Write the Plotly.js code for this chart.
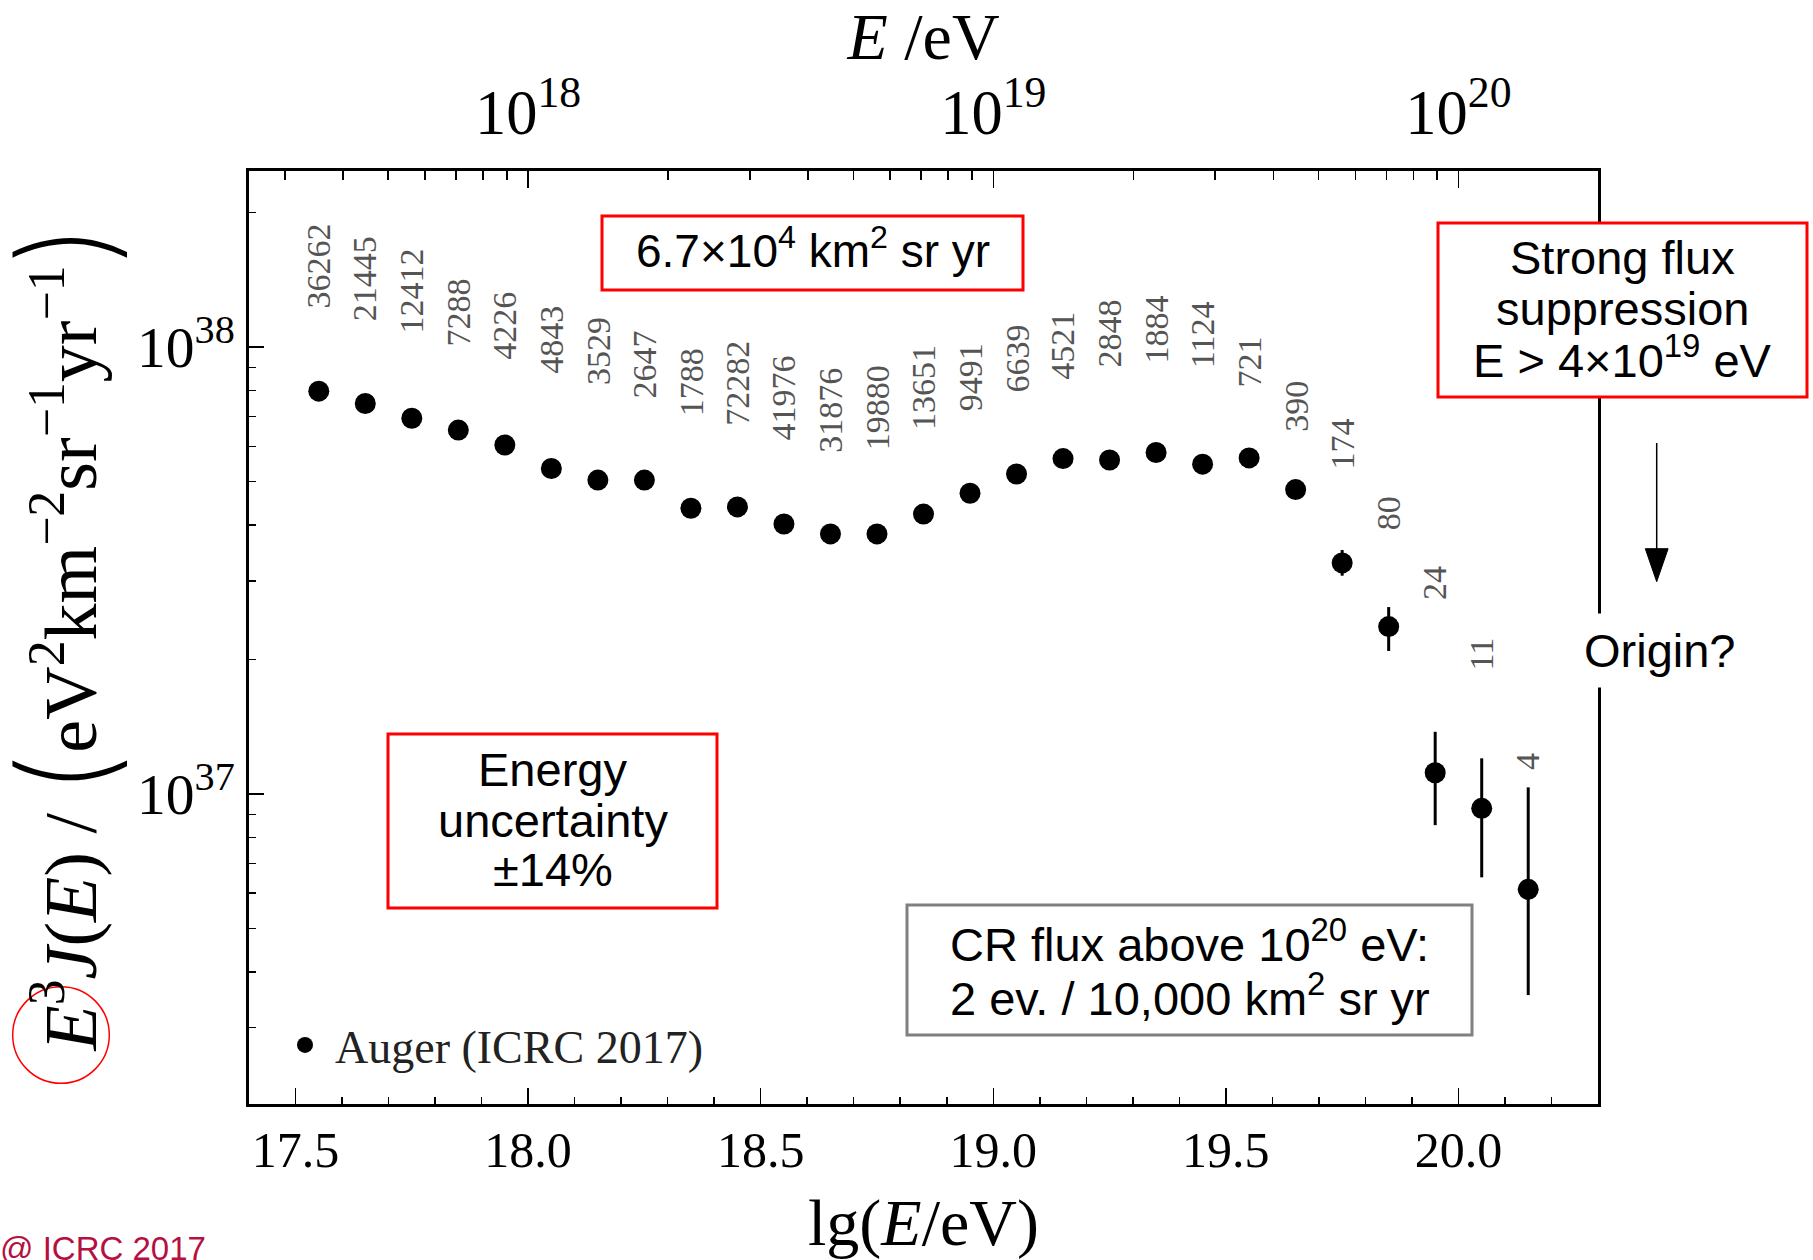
<!DOCTYPE html>
<html>
<head>
<meta charset="utf-8">
<script src="https://cdn.plot.ly/plotly-3.0.1.min.js"></script>
<style>html,body{margin:0;padding:0;background:#fff;}</style>
</head>
<body>
<div id="chart" style="width:1813px;height:1260px;"></div>
<script>
// ---- data ----
const lgE = [17.55, 17.65, 17.75, 17.85, 17.95, 18.05, 18.15, 18.25, 18.35, 18.45,
             18.55, 18.65, 18.75, 18.85, 18.95, 19.05, 19.15, 19.25, 19.35, 19.45,
             19.55, 19.65, 19.75, 19.85, 19.95, 20.05, 20.15];
const fluxE3J = [7.97e37, 7.48e37, 6.93e37, 6.52e37, 6.04e37, 5.35e37, 5.04e37, 5.04e37, 4.36e37, 4.39e37,
                 4.02e37, 3.82e37, 3.82e37, 4.23e37, 4.71e37, 5.20e37, 5.63e37, 5.59e37, 5.81e37, 5.47e37,
                 5.65e37, 4.80e37, 3.29e37, 2.37e37, 1.116e37, 9.29e36, 6.12e36];
const errUp = [0, 0, 0, 0, 0, 0, 0, 0, 0, 0,
               0, 0, 0, 0, 0, 0, 0, 0, 0, 0,
               0.05e37, 0.08e37, 0.225e37, 0.25e37, 0.262e37, 0.273e37, 0.423e37];
const errDown = [0, 0, 0, 0, 0, 0, 0, 0, 0, 0,
                 0, 0, 0, 0, 0, 0, 0, 0, 0, 0,
                 0.05e37, 0.08e37, 0.21e37, 0.28e37, 0.264e37, 0.278e37, 0.257e37];
const eventCounts = ["36262", "21445", "12412", "7288", "4226", "4843", "3529", "2647", "1788", "72282",
                     "41976", "31876", "19880", "13651", "9491", "6639", "4521", "2848", "1884", "1124",
                     "721", "390", "174", "80", "24", "11", "4"];
const seriesName = "Auger (ICRC 2017)";
const yTitle = "<i>E</i><sup>3</sup><i>J</i>(<i>E</i>) / " +
  "<span style=\"font-family:Inter;font-weight:200;font-size:126px;baseline-shift:-14px\">(</span>" +
  "eV<sup>2</sup>km<sup>−2</sup>sr<sup>−1</sup>yr<sup>−1</sup>" +
  "<span style=\"font-family:Inter;font-weight:200;font-size:126px;baseline-shift:-14px\">)</span>";

// ---- styling / placement (not data) ----
const labelGap = [81, 80, 83, 82, 83, 93, 93, 80, 90, 79, 82, 79, 82, 82, 80, 79, 77, 90, 87, 94,
                  68, 56, 91, 94, 171, 136, 117];

const L = 249, W = 1349, T = 171, H = 933;
const px = v => (v - L) / W;
const py = v => (T + H - v) / H;

const SANS = "Liberation Sans, Arial, sans-serif";
const SERIF = "Liberation Serif, Times New Roman, serif";

const trace = {
  type: "scatter",
  mode: "markers",
  name: seriesName,
  x: lgE,
  y: fluxE3J,
  xaxis: "x",
  yaxis: "y",
  marker: {size: 21, color: "#000"},
  error_y: {type: "data", symmetric: false, array: errUp, arrayminus: errDown,
            thickness: 3, width: 0, color: "#000"},
  hoverinfo: "x+y"
};

// same points expressed in E (eV) on the top log axis; invisible, only anchors that axis
const traceTop = {
  type: "scatter",
  mode: "markers",
  x: lgE.map(v => Math.pow(10, v)),
  y: fluxE3J,
  xaxis: "x2",
  yaxis: "y",
  marker: {size: 1, color: "rgba(0,0,0,0)"},
  showlegend: false,
  hoverinfo: "skip"
};

const annotations = [];
eventCounts.forEach((t, i) => {
  annotations.push({
    x: lgE[i], y: Math.log10(fluxE3J[i]), xref: "x", yref: "y",
    text: t, textangle: -90, showarrow: false,
    xanchor: "center", yanchor: "bottom", yshift: labelGap[i],
    font: {family: SERIF, size: 34, color: "#555"}
  });
});

function textLine(text, cx, cy, size, color, extra) {
  return Object.assign({
    x: px(cx), y: py(cy), xref: "paper", yref: "paper", text: text,
    showarrow: false, xanchor: "center", yanchor: "middle",
    font: {family: SANS, size: size, color: color || "#000"}
  }, extra || {});
}

// y-axis title (drawn as rotated text so it can sit at the far left edge)
annotations.push({
  x: px(63), y: 0.5, xref: "paper", yref: "paper", text: yTitle,
  textangle: -90, showarrow: false, xanchor: "center", yanchor: "middle",
  font: {family: SERIF, size: 74, color: "#000"}
});

annotations.push(textLine("6.7×10<sup>4</sup> km<sup>2</sup> sr yr", 812.5, 248, 46));
annotations.push(textLine("Strong flux", 1622, 258, 47));
annotations.push(textLine("suppression", 1622, 308, 47));
annotations.push(textLine("E &gt; 4×10<sup>19</sup> eV", 1622, 357, 47));
annotations.push(textLine("Energy", 552.5, 769, 47));
annotations.push(textLine("uncertainty", 552.5, 820, 47));
annotations.push(textLine("±14%", 552.5, 869, 47));
annotations.push(textLine("CR flux above 10<sup>20</sup> eV:", 1189.6, 941, 47));
annotations.push(textLine("2 ev. / 10,000 km<sup>2</sup> sr yr", 1189.6, 995, 47));
annotations.push(textLine("Origin?", 1660, 650, 47, "#000", {bgcolor: "#fff", borderpad: 10}));
annotations.push({
  x: px(-2), y: py(1228), xref: "paper", yref: "paper", text: "@ ICRC 2017",
  showarrow: false, xanchor: "left", yanchor: "top",
  font: {family: SANS, size: 33, color: "#b5103f"}
});

function rect(x0, x1, y0, y1, color) {
  return {type: "rect", xref: "paper", yref: "paper", layer: "above",
          x0: px(x0), x1: px(x1), y0: py(y0), y1: py(y1),
          fillcolor: "#fff", line: {color: color, width: 3}};
}

const shapes = [
  rect(602, 1023, 216, 290, "#ff0000"),
  rect(1438, 1807, 223, 397, "#ff0000"),
  rect(388, 717, 734, 908, "#ff0000"),
  rect(907, 1472, 905, 1035, "#808080"),
  {type: "circle", xref: "paper", yref: "paper", layer: "above",
   x0: px(12.7), x1: px(109.3), y0: py(1083.3), y1: py(986.7),
   line: {color: "#ff0000", width: 1.5}},
  {type: "line", xref: "paper", yref: "paper", layer: "above",
   x0: px(1656.7), x1: px(1656.7), y0: py(443), y1: py(560),
   line: {color: "#000", width: 1.5}},
  {type: "path", xref: "paper", yref: "paper", layer: "above",
   path: "M " + px(1656.7) + " " + py(581.7) + " L " + px(1645.3) + " " + py(548.7) +
         " L " + px(1668.1) + " " + py(548.7) + " Z",
   fillcolor: "#000", line: {color: "#000", width: 1}}
];

const layout = {
  width: 1813, height: 1260,
  margin: {l: L, r: 1813 - L - W, t: T, b: 1260 - T - H, pad: 0},
  paper_bgcolor: "#fff", plot_bgcolor: "#fff",
  showlegend: true,
  legend: {x: px(275), y: py(1045), xanchor: "left", yanchor: "middle",
           bgcolor: "rgba(0,0,0,0)", itemwidth: 50,
           font: {family: SERIF, size: 46, color: "#222"}},
  xaxis: {
    range: [17.4, 20.3], tick0: 17.5, dtick: 0.5, tickformat: ".1f",
    ticks: "inside", ticklen: 16, tickwidth: 1.5, tickcolor: "#000",
    minor: {dtick: 0.1, ticks: "inside", ticklen: 7, tickwidth: 1.5, tickcolor: "#000", showgrid: false},
    showline: true, linewidth: 3, linecolor: "#000", mirror: false,
    showgrid: false, zeroline: false,
    ticklabelstandoff: 0,
    tickfont: {family: SERIF, size: 50, color: "#000"},
    title: {text: "lg(<i>E</i>/eV)", font: {family: SERIF, size: 66, color: "#000"}, standoff: 34}
  },
  xaxis2: {
    type: "log", overlaying: "x", side: "top", anchor: "y",
    range: [17.4, 20.3], dtick: 1, exponentformat: "power",
    ticks: "inside", ticklen: 17, tickwidth: 1.5, tickcolor: "#000",
    minor: {dtick: "D1", ticks: "inside", ticklen: 9, tickwidth: 1.5, tickcolor: "#000", showgrid: false},
    showline: true, linewidth: 3, linecolor: "#000",
    showgrid: false, zeroline: false,
    ticklabelstandoff: 12,
    tickfont: {family: SERIF, size: 50, color: "#000"},
    title: {text: "<i>E</i> /eV", font: {family: SERIF, size: 66, color: "#000"}, standoff: 10}
  },
  yaxis: {
    type: "log", range: [36.3065, 38.394], dtick: 1, exponentformat: "power",
    ticks: "inside", ticklen: 15, tickwidth: 1.5, tickcolor: "#000",
    minor: {dtick: "D1", ticks: "inside", ticklen: 7, tickwidth: 1.5, tickcolor: "#000", showgrid: false},
    showline: true, linewidth: 3, linecolor: "#000", mirror: true,
    showgrid: false, zeroline: false,
    ticklabelstandoff: 2,
    tickfont: {family: SERIF, size: 46, color: "#000"}
  },
  annotations: annotations,
  shapes: shapes
};

Plotly.newPlot("chart", [trace, traceTop], layout, {staticPlot: true, displayModeBar: false});
</script>
</body>
</html>
